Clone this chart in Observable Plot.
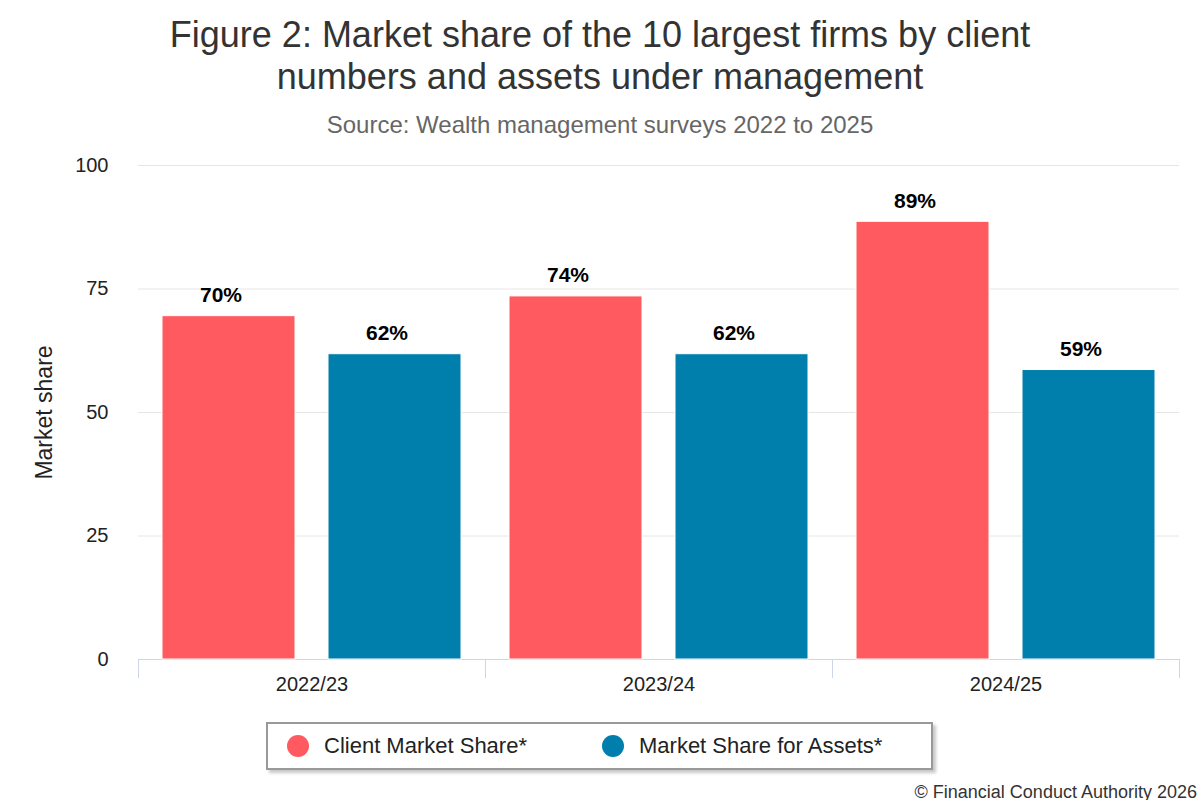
<!DOCTYPE html>
<html>
<head>
<meta charset="utf-8">
<script src="https://cdn.jsdelivr.net/npm/d3@7"></script>
<script src="https://cdn.jsdelivr.net/npm/@observablehq/plot@0.6"></script>
<style>
  html, body { margin: 0; padding: 0; background: #fff; }
  body { width: 1200px; height: 800px; overflow: hidden; position: relative;
         font-family: "Liberation Sans", Arial, Helvetica, sans-serif; }
  #header { height: 145px; box-sizing: border-box; padding-top: 14px; text-align: center; }
  #title { font-size: 36px; line-height: 42px; color: #333; height: 84px; white-space: nowrap; }
  #subtitle { font-size: 24px; line-height: 28px; color: #666; margin-top: 13px; }
  #chart svg { display: block; }
  #legend { position: absolute; left: 266px; top: 722px; width: 667px; height: 48px;
            box-sizing: border-box; border: 2px solid #999; background: #fff;
            box-shadow: 3px 3px 3px rgba(0,0,0,0.22); }
  .item { position: absolute; top: 0; height: 44px; display: flex; align-items: center;
          font-size: 22px; color: #222; }
  .dot { width: 22px; height: 22px; border-radius: 50%; margin-right: 15px; }
  #credits { position: absolute; right: 3px; top: 781px; font-size: 18px; color: #333; line-height: 22px; }
</style>
</head>
<body>
<div id="header">
  <div id="title">Figure 2: Market share of the 10 largest firms by client<br>numbers and assets under management</div>
  <div id="subtitle">Source: Wealth management surveys 2022 to 2025</div>
</div>
<div id="chart"></div>
<div id="legend"></div>
<div id="credits">© Financial Conduct Authority 2026</div>
<script>
// ---- data ----
const years = ["2022/23", "2023/24", "2024/25"];
const seriesNames = ["Client Market Share*", "Market Share for Assets*"];
const clientShare = [69.5, 73.5, 88.6];
const assetShare = [61.8, 61.8, 58.6];
const yTicks = [0, 25, 50, 75, 100];
const seriesColors = ["#FF5A5F", "#007FAD"];

const rows = years.flatMap((yr, i) => [
  {year: yr, series: seriesNames[0], value: clientShare[i]},
  {year: yr, series: seriesNames[1], value: assetShare[i]}
]);

const W = 1200, H = 565, mT = 20, mB = 51, mL = 137, mR = 20;
const innerH = H - mT - mB;

const chart = Plot.plot({
  width: W, height: H,
  marginTop: mT, marginBottom: mB, marginLeft: mL, marginRight: mR,
  style: {fontFamily: "'Liberation Sans', Arial, Helvetica, sans-serif", fontSize: "20px", color: "#222", background: "#fff"},
  fx: {domain: years, padding: 0, label: null},
  x: {domain: seriesNames, paddingInner: 0.2, paddingOuter: 0.145, axis: null},
  y: {domain: [0, 100]},
  color: {domain: seriesNames, range: seriesColors},
  marks: [
    Plot.gridY(yTicks, {stroke: "#e6e6e6", strokeOpacity: 1, strokeWidth: 1}),
    Plot.axisY(yTicks, {tickSize: 0, tickPadding: 30, label: null, fontSize: 20, fill: "#222"}),
    Plot.axisY([], {tickSize: 0, label: "Market share", labelAnchor: "center", labelArrow: "none", labelOffset: 103, fontSize: 23, fill: "#222"}),
    Plot.axisFx({anchor: "bottom", tickSize: 0, tickPadding: 17, label: null, fontSize: 20, fill: "#222"}),
    Plot.ruleY([0], {stroke: "#ccd6eb", strokeWidth: 1}),
    Plot.frame({anchor: "left", stroke: "#ccd6eb", insetTop: innerH, insetBottom: -18}),
    Plot.frame({anchor: "right", stroke: "#ccd6eb", insetTop: innerH, insetBottom: -18}),
    Plot.barY(rows, {fx: "year", x: "series", y: "value", fill: "series", stroke: "#fff", strokeWidth: 1}),
    Plot.text(rows, {fx: "year", x: "series", y: "value", text: d => Math.round(d.value) + "%",
      dx: -8, dy: -21, fontWeight: "bold", fontSize: 21, fill: "#000", stroke: "#fff", strokeWidth: 2})
  ]
});
document.getElementById("chart").appendChild(chart);

// legend
const legend = document.getElementById("legend");
const itemLeft = [19, 334];
seriesNames.forEach((name, i) => {
  const it = document.createElement("div");
  it.className = "item";
  it.style.left = itemLeft[i] + "px";
  const dot = document.createElement("span");
  dot.className = "dot";
  dot.style.background = seriesColors[i];
  const lab = document.createElement("span");
  lab.textContent = name;
  it.appendChild(dot);
  it.appendChild(lab);
  legend.appendChild(it);
});
</script>
</body>
</html>
